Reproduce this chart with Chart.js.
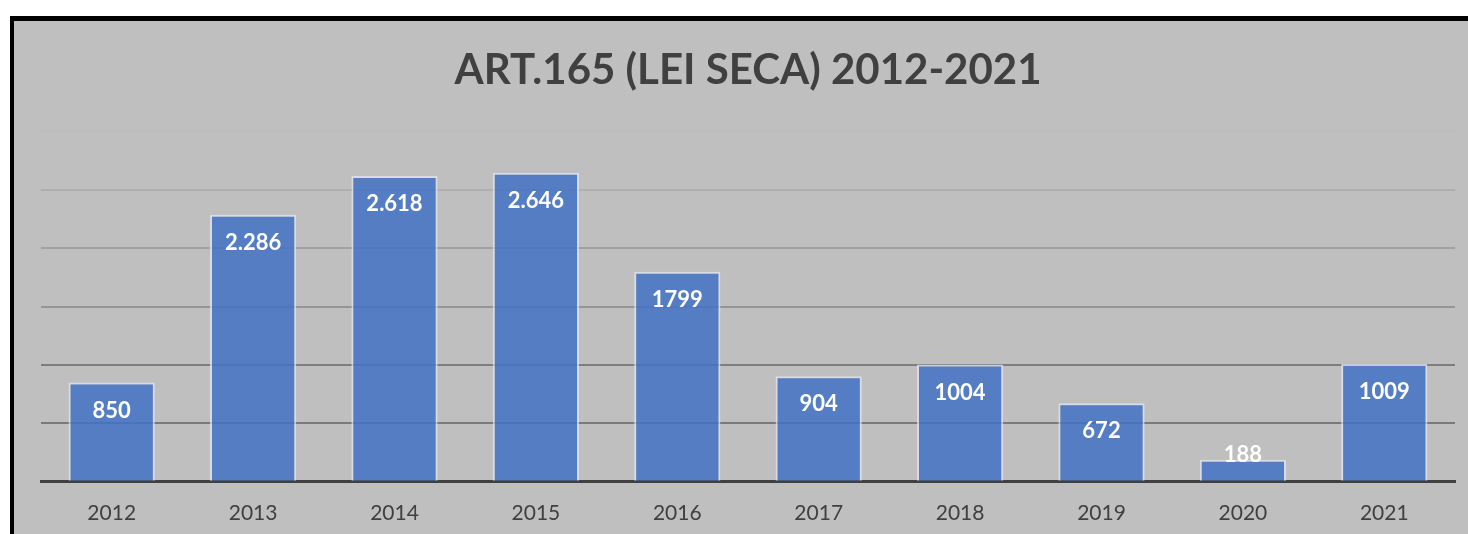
<!DOCTYPE html>
<html>
<head>
<meta charset="utf-8">
<script src="https://cdn.jsdelivr.net/npm/chart.js@4"></script>
<style>
	html, body { margin:0; padding:0; background:#fff; }
	body { width:1468px; height:534px; position:relative; overflow:hidden; }
	.frame { position:absolute; left:10px; top:16px; right:0; bottom:0; border-left:4px solid #000; border-top:5px solid #000; background:#bfbfbf; overflow:hidden; }
	.chart-wrap { position:absolute; left:0; top:0; width:1454px; height:540px; }
</style>
</head>
<body>
<div class="frame"><div class="chart-wrap"><canvas id="leiSeca"></canvas></div></div>
<script>
const years = ['2012','2013','2014','2015','2016','2017','2018','2019','2020','2021'];
const casos = [850, 2286, 2618, 2646, 1799, 904, 1004, 672, 188, 1009];
const rotulos = ['850','2.286','2.618','2.646','1799','904','1004','672','188','1009'];
const yTicks = [0, 500, 1000, 1500, 2000, 2500, 3000];
const gridColors = ['#404040','#7a7a7a','#7e7e7e','#959595','#a2a2a2','#afafaf','#bcbcbc'];

// white value labels inside the bar top
const valueLabels = {
	id: 'valueLabels',
	afterDatasetsDraw(chart){
		const ctx = chart.ctx;
		const meta = chart.getDatasetMeta(0);
		ctx.save();
		ctx.fillStyle = '#ffffff';
		ctx.font = 'bold 22px Lato';
		ctx.textAlign = 'center';
		ctx.textBaseline = 'middle';
		meta.data.forEach(function(bar, i){
			const y = Math.min(bar.y + 28, bar.base - 26);
			ctx.fillText(rotulos[i], bar.x, y);
		});
		ctx.restore();
	}
};

new Chart(document.getElementById('leiSeca'), {
	type: 'bar',
	data: {
		labels: years,
		datasets: [{
			data: casos,
			backgroundColor: 'rgba(68,114,196,0.86)',
			borderColor: 'rgba(225,230,242,0.75)',
			borderWidth: 2,
			categoryPercentage: 1,
			barPercentage: 0.61
		}]
	},
	options: {
		responsive: true,
		maintainAspectRatio: false,
		animation: false,
		layout: { padding: { left: 27, right: 13, top: 0, bottom: 24 } },
		plugins: {
			legend: { display: false },
			tooltip: { enabled: false },
			title: {
				display: true,
				text: 'ART.165 (LEI SECA) 2012-2021',
				color: '#404040',
				font: { family: 'Lato', size: 42, weight: 'bold' },
				padding: { top: 24, bottom: 36 }
			}
		},
		scales: {
			x: {
				grid: { display: false },
				border: { color: '#404040', width: 3 },
				ticks: { color: '#404040', font: { family: 'Lato', size: 21 }, padding: 11 }
			},
			y: {
				min: 0,
				max: 3000,
				afterBuildTicks(axis){ axis.ticks = yTicks.map(v => ({ value: v })); },
				ticks: { display: false },
				border: { display: false },
				grid: {
					drawTicks: false,
					lineWidth: 2,
					color: ctx => gridColors[yTicks.indexOf(ctx.tick.value)] || '#999'
				}
			}
		}
	},
	plugins: [valueLabels]
});
</script>
</body>
</html>
